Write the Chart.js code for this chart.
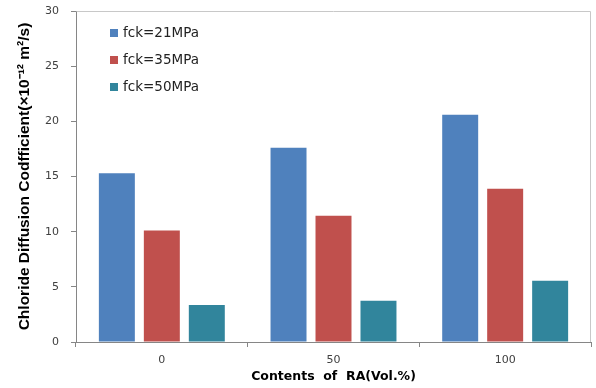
<!DOCTYPE html>
<html>
<head>
<meta charset="utf-8">
<script src="https://cdn.jsdelivr.net/npm/chart.js@4/dist/chart.umd.min.js"></script>
<style>
html,body{margin:0;padding:0;background:#fff;}
#wrap{width:596px;height:388px;}
</style>
</head>
<body>
<div id="wrap"><canvas id="c" width="596" height="388"></canvas></div>
<script>
const categories = ['0', '50', '100'];
const seriesLabels = ['fck=21MPa', 'fck=35MPa', 'fck=50MPa'];
const fck21 = [15.3, 17.6, 20.6];
const fck35 = [10.1, 11.45, 13.9];
const fck50 = [3.35, 3.75, 5.56];
const seriesColors = ['#4F81BD', '#C0504D', '#31859C'];
const yTicks = [0, 5, 10, 15, 20, 25, 30];

const frameAndLegend = {
  id: 'frameAndLegend',
  afterDatasetsDraw(chart) {
    const ctx = chart.ctx;
    const a = chart.chartArea;
    ctx.save();
    ctx.strokeStyle = '#C8C8C8';
    ctx.lineWidth = 1;
    ctx.beginPath();
    ctx.moveTo(Math.round(a.left) + 0.5, Math.round(a.top) + 0.5);
    ctx.lineTo(Math.round(a.right) - 0.5, Math.round(a.top) + 0.5);
    ctx.lineTo(Math.round(a.right) - 0.5, Math.round(a.bottom));
    ctx.stroke();
    // legend inside plot area
    ctx.font = '13.5px "DejaVu Sans"';
    ctx.textBaseline = 'middle';
    ctx.textAlign = 'left';
    chart.data.datasets.forEach((ds, i) => {
      const y = a.top + 22 + i * 27;
      const x = a.left + 34;
      ctx.fillStyle = ds.backgroundColor;
      ctx.fillRect(x, y - 4, 8, 8);
      ctx.fillStyle = '#222';
      ctx.fillText(ds.label, x + 13, y);
    });
    ctx.restore();
  }
};

new Chart(document.getElementById('c'), {
  type: 'bar',
  data: {
    labels: categories,
    datasets: [
      { label: seriesLabels[0], data: fck21, backgroundColor: seriesColors[0] },
      { label: seriesLabels[1], data: fck35, backgroundColor: seriesColors[1] },
      { label: seriesLabels[2], data: fck50, backgroundColor: seriesColors[2] }
    ]
  },
  options: {
    responsive: false,
    animation: false,
    devicePixelRatio: 1,
    layout: { padding: { top: 11, right: 5, left: 0, bottom: 0 } },
    plugins: { legend: { display: false }, tooltip: { enabled: false } },
    datasets: { bar: { categoryPercentage: 0.786, barPercentage: 0.8, borderWidth: 0 } },
    scales: {
      x: {
        grid: { display: true, drawOnChartArea: false, drawTicks: true, tickLength: 5, color: '#868686', offset: true },
        border: { display: true, color: '#868686' },
        ticks: { color: '#404040', font: { family: 'DejaVu Sans', size: 11 }, padding: 7 },
        title: { display: true, text: 'Contents  of  RA(Vol.%)', color: '#000', font: { family: 'DejaVu Sans', weight: 'bold', size: 12.5 }, padding: { top: 0, bottom: 4 } },
        afterFit: (s) => { s.height = 46; s.paddingLeft = 0; s.paddingRight = 0; }
      },
      y: {
        min: 0, max: 30,
        afterBuildTicks: (s) => { s.ticks = yTicks.map(v => ({ value: v })); },
        grid: { display: true, drawOnChartArea: false, drawTicks: true, tickLength: 5, color: '#868686' },
        border: { display: true, color: '#868686' },
        ticks: { color: '#404040', font: { family: 'DejaVu Sans', size: 11 }, padding: 12 },
        title: { display: true, text: 'Chloride Diffusion Codfficient(×10⁻¹² m²/s)', color: '#000', font: { family: 'Liberation Sans', weight: 'bold', size: 15.5 }, padding: { top: 15, bottom: 0 } },
        afterFit: (s) => { s.width = 76; s.paddingTop = 0; s.paddingBottom = 0; }
      }
    }
  },
  plugins: [frameAndLegend]
});
</script>
</body>
</html>
